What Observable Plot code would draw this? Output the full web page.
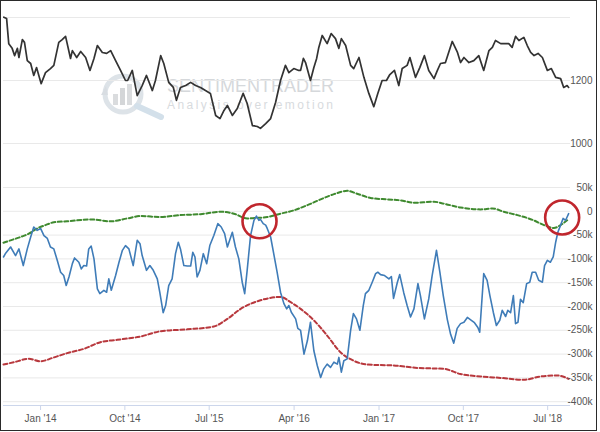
<!DOCTYPE html>
<html><head><meta charset="utf-8">
<script src="https://cdn.jsdelivr.net/npm/d3@7"></script>
<script src="https://cdn.jsdelivr.net/npm/@observablehq/plot@0.6"></script>
<style>
body{margin:0;background:#fff;font-family:"Liberation Sans",Arial,sans-serif}
#wrap{position:relative;width:600px;height:432px;overflow:hidden;background:#fff}
#frame{position:absolute;left:0;top:0;width:597px;height:431px;box-sizing:border-box;border:1.5px solid #2a2a2a;pointer-events:none;z-index:5}
#wm{position:absolute;left:0;top:0;z-index:0}
#charts{position:absolute;left:0;top:0;z-index:1}
#charts svg{display:block}
</style></head><body>
<div id="wrap">
<svg id="wm" width="600" height="160" xmlns="http://www.w3.org/2000/svg">
  <circle cx="123" cy="94" r="18" fill="none" stroke="#dde3e8" stroke-width="5"/>
  <rect x="113" y="94" width="5" height="11" fill="#dadcde"/>
  <rect x="120" y="88" width="5" height="17" fill="#d4d6d8"/>
  <rect x="127" y="84" width="5" height="21" fill="#dadcde"/>
  <line x1="137" y1="106" x2="161" y2="117" stroke="#d3e0ea" stroke-width="6" stroke-linecap="round"/>
  <path d="M106 86 L101 95 L108 95 Z" fill="#d8dde2"/>
  <text x="167" y="92" font-family="Liberation Sans, Arial, sans-serif" font-size="19" fill="#d5d8db" textLength="167" lengthAdjust="spacingAndGlyphs">SENTIMENTRADER</text>
  <text x="167" y="109" font-family="Liberation Sans, Arial, sans-serif" font-size="12" fill="#d8dbde" textLength="166" lengthAdjust="spacing">Analysis over emotion</text>
</svg>
<div id="charts"></div>
<div id="frame"></div>
</div>
<script>
// ---- data ----
const goldDates = ["2013-09-04","2013-09-13","2013-09-20","2013-10-01","2013-10-09","2013-10-18","2013-10-23","2013-11-03","2013-11-10","2013-11-19","2013-11-30","2013-12-10","2013-12-19","2014-01-03","2014-01-17","2014-02-02","2014-02-13","2014-03-01","2014-03-12","2014-03-23","2014-04-08","2014-04-14","2014-04-28","2014-05-11","2014-05-27","2014-06-10","2014-06-23","2014-07-04","2014-07-20","2014-08-03","2014-08-16","2014-09-01","2014-09-17","2014-10-03","2014-10-10","2014-10-25","2014-11-10","2014-11-26","2014-12-10","2014-12-29","2015-01-08","2015-01-25","2015-02-04","2015-02-20","2015-03-07","2015-03-17","2015-03-30","2015-04-16","2015-05-02","2015-05-18","2015-06-03","2015-06-19","2015-07-05","2015-07-22","2015-08-05","2015-08-18","2015-08-29","2015-09-14","2015-09-30","2015-10-19","2015-11-01","2015-11-18","2015-12-04","2015-12-14","2015-12-31","2016-01-16","2016-02-01","2016-02-17","2016-03-04","2016-03-15","2016-03-31","2016-04-16","2016-04-22","2016-05-01","2016-05-08","2016-05-24","2016-06-04","2016-06-13","2016-06-20","2016-07-01","2016-07-17","2016-07-30","2016-08-13","2016-08-24","2016-09-01","2016-09-15","2016-10-01","2016-10-11","2016-10-28","2016-11-13","2016-11-29","2016-12-15","2016-12-28","2017-01-11","2017-01-25","2017-02-05","2017-02-20","2017-03-06","2017-03-17","2017-04-02","2017-04-11","2017-04-29","2017-05-13","2017-05-28","2017-06-11","2017-06-28","2017-07-09","2017-07-19","2017-08-04","2017-08-26","2017-09-12","2017-09-22","2017-10-03","2017-10-19","2017-11-04","2017-11-20","2017-12-06","2017-12-23","2018-01-03","2018-01-13","2018-01-30","2018-02-11","2018-02-25","2018-03-08","2018-03-19","2018-03-30","2018-04-15","2018-04-26","2018-05-07","2018-05-18","2018-05-31","2018-06-14","2018-06-30","2018-07-13","2018-07-27","2018-08-12","2018-08-22","2018-09-02","2018-09-07"];
const goldValues = [1401,1397,1317,1302,1279,1302,1273,1330,1321,1263,1254,1216,1241,1190,1225,1238,1248,1321,1330,1340,1270,1295,1273,1292,1273,1232,1270,1311,1289,1286,1295,1263,1232,1200,1200,1232,1152,1184,1216,1168,1200,1279,1254,1194,1178,1137,1178,1184,1194,1184,1178,1168,1159,1089,1079,1105,1121,1089,1111,1159,1127,1057,1054,1048,1063,1079,1130,1200,1248,1225,1238,1232,1232,1270,1257,1200,1241,1270,1305,1343,1317,1349,1333,1302,1333,1311,1248,1238,1273,1210,1159,1117,1159,1200,1200,1219,1232,1184,1238,1248,1273,1210,1241,1279,1232,1206,1232,1254,1257,1324,1289,1257,1273,1257,1263,1279,1232,1295,1305,1327,1317,1317,1317,1305,1340,1327,1337,1311,1289,1279,1286,1273,1232,1238,1210,1206,1178,1184,1178];

const posDates = ["2013-09-03","2013-09-10","2013-09-26","2013-10-12","2013-10-23","2013-11-06","2013-11-19","2013-11-30","2013-12-10","2013-12-21","2014-01-01","2014-01-12","2014-01-23","2014-02-02","2014-02-13","2014-02-24","2014-03-07","2014-03-17","2014-03-25","2014-04-03","2014-04-14","2014-04-21","2014-05-05","2014-05-13","2014-05-21","2014-05-30","2014-06-06","2014-06-14","2014-06-23","2014-07-04","2014-07-12","2014-07-25","2014-08-03","2014-08-10","2014-08-18","2014-09-01","2014-09-12","2014-09-23","2014-10-03","2014-10-14","2014-10-28","2014-11-10","2014-11-19","2014-11-26","2014-12-10","2014-12-21","2015-01-01","2015-01-14","2015-01-22","2015-02-02","2015-02-10","2015-02-20","2015-03-03","2015-03-14","2015-03-23","2015-03-30","2015-04-10","2015-04-21","2015-05-02","2015-05-09","2015-05-16","2015-05-23","2015-06-01","2015-06-12","2015-06-23","2015-07-03","2015-07-16","2015-07-29","2015-08-09","2015-08-20","2015-08-29","2015-09-14","2015-09-24","2015-10-05","2015-10-16","2015-10-24","2015-11-01","2015-11-12","2015-11-23","2015-12-01","2015-12-09","2015-12-14","2015-12-23","2015-12-31","2016-01-05","2016-01-16","2016-01-26","2016-02-06","2016-02-17","2016-02-28","2016-03-08","2016-03-15","2016-03-23","2016-04-06","2016-04-13","2016-04-22","2016-05-03","2016-05-14","2016-05-24","2016-06-04","2016-06-15","2016-06-26","2016-07-06","2016-07-17","2016-07-28","2016-08-08","2016-08-19","2016-08-24","2016-09-01","2016-09-09","2016-09-20","2016-10-01","2016-10-10","2016-10-20","2016-10-31","2016-11-11","2016-11-18","2016-11-29","2016-12-10","2016-12-21","2016-12-28","2017-01-06","2017-01-19","2017-02-02","2017-02-10","2017-02-17","2017-03-01","2017-03-09","2017-03-22","2017-04-02","2017-04-13","2017-04-24","2017-05-07","2017-05-15","2017-05-28","2017-06-11","2017-06-22","2017-07-06","2017-07-17","2017-07-28","2017-08-10","2017-08-21","2017-08-31","2017-09-11","2017-09-22","2017-10-03","2017-10-14","2017-10-27","2017-11-06","2017-11-17","2017-11-23","2017-12-06","2017-12-17","2017-12-26","2018-01-06","2018-01-16","2018-01-27","2018-02-04","2018-02-15","2018-02-22","2018-03-03","2018-03-12","2018-03-19","2018-03-27","2018-04-04","2018-04-13","2018-04-24","2018-05-04","2018-05-12","2018-05-23","2018-06-02","2018-06-14","2018-06-21","2018-06-30","2018-07-10","2018-07-19","2018-07-27","2018-08-03","2018-08-12","2018-08-20","2018-08-28","2018-09-02","2018-09-07"];
const posValues = [-96,-88,-75,-93,-79,-114,-79,-54,-33,-40,-36,-51,-57,-75,-79,-103,-128,-135,-156,-138,-110,-98,-107,-121,-114,-115,-79,-73,-100,-163,-173,-166,-170,-142,-166,-135,-107,-82,-72,-79,-114,-61,-68,-93,-124,-114,-124,-142,-170,-213,-198,-156,-142,-89,-65,-79,-114,-115,-115,-86,-96,-138,-124,-89,-110,-72,-51,-26,-33,-47,-75,-44,-75,-100,-149,-173,-124,-51,-19,-10,-19,-17,-26,-29,-36,-54,-89,-128,-170,-194,-205,-198,-212,-226,-246,-250,-300,-272,-233,-293,-324,-349,-331,-321,-328,-317,-321,-307,-338,-314,-310,-250,-215,-226,-250,-198,-173,-166,-149,-131,-128,-133,-135,-142,-137,-183,-150,-133,-171,-198,-222,-205,-152,-177,-226,-184,-135,-82,-128,-177,-227,-259,-277,-246,-236,-233,-223,-229,-234,-244,-254,-131,-145,-177,-212,-240,-229,-208,-221,-208,-213,-177,-236,-233,-185,-192,-152,-149,-128,-128,-145,-149,-114,-103,-107,-96,-65,-44,-29,-15,-19,-12,-5];

const upperDates = ["2013-09-03","2013-09-26","2013-10-28","2013-11-24","2013-12-21","2014-01-17","2014-02-13","2014-03-28","2014-06-12","2014-08-16","2014-10-09","2014-11-21","2015-01-25","2015-03-30","2015-06-03","2015-08-07","2015-09-19","2015-11-01","2015-12-01","2016-01-05","2016-02-17","2016-03-31","2016-05-14","2016-06-26","2016-08-08","2016-09-20","2016-10-22","2016-12-05","2017-01-28","2017-03-12","2017-04-24","2017-06-28","2017-07-30","2017-09-22","2017-11-26","2018-01-03","2018-02-09","2018-03-25","2018-05-17","2018-06-19","2018-07-21","2018-08-12","2018-09-02"];
const upperValues = [-66,-61,-54,-47,-36,-29,-23,-21,-17,-21,-15,-10,-12,-8,-6,-1,-5,-15,-14,-12,-5,2,13,25,36,43,37,28,25,23,18,20,16,8,4,6,-1,-8,-19,-29,-35,-29,-19];

const lowerDates = ["2013-09-03","2013-10-07","2013-11-24","2014-01-01","2014-02-13","2014-03-28","2014-05-21","2014-07-14","2014-09-06","2014-11-21","2015-01-25","2015-04-21","2015-07-16","2015-08-29","2015-10-11","2015-12-14","2016-02-17","2016-03-21","2016-04-22","2016-06-04","2016-07-17","2016-08-29","2016-10-11","2016-11-24","2017-02-18","2017-05-05","2017-07-30","2017-09-22","2017-11-26","2018-01-30","2018-04-15","2018-06-08","2018-08-01","2018-09-07"];
const lowerValues = [-322,-317,-310,-315,-307,-298,-289,-275,-270,-263,-252,-248,-242,-226,-205,-187,-180,-191,-205,-229,-261,-296,-314,-322,-324,-329,-331,-342,-347,-350,-354,-347,-345,-352];

const highlightDates = ["2015-12-11","2018-08-17"];
const highlightValues = [-21,-13];

const xTickDates = ["2014-01-01","2014-10-01","2015-07-01","2016-04-01","2017-01-01","2017-10-01","2018-07-01"];
const xTickLabels = ["Jan '14","Oct '14","Jul '15","Apr '16","Jan '17","Oct '17","Jul '18"];
const topTicks = [1000, 1200];
const topGrid = [1000, 1200, 1400];
const bottomTicks = [50, 0, -50, -100, -150, -200, -250, -300, -350, -400];

// ---- build ----
const parse = d3.utcParse("%Y-%m-%d");
const zip = (ds, vs) => ds.map((d, i) => ({date: parse(d), value: vs[i]}));
const gold = zip(goldDates, goldValues);
const pos = zip(posDates, posValues);
const upper = zip(upperDates, upperValues);
const lower = zip(lowerDates, lowerValues);
const highlights = zip(highlightDates, highlightValues);
const xTicks = xTickDates.map(parse);
const labelMap = new Map(xTicks.map((d, i) => [+d, xTickLabels[i]]));

const xDomain = [parse("2013-09-03"), parse("2018-09-13")];
const font = {background: "transparent", fontFamily: "Liberation Sans, Arial, sans-serif", fontSize: "10px", overflow: "visible"};

const topChart = Plot.plot({
  width: 600, height: 160,
  marginLeft: 3, marginRight: 30, marginTop: 17, marginBottom: 17,
  style: font,
  x: {type: "utc", domain: xDomain, axis: null},
  y: {domain: [1000, 1400]},
  marks: [
    Plot.ruleY(topGrid, {stroke: "#e9e9e9", strokeWidth: 1}),
    Plot.lineY(gold, {x: "date", y: "value", stroke: "#333333", strokeWidth: 1.7}),
    Plot.axisY({anchor: "right", ticks: topTicks, tickSize: 0, tickPadding: 3, textAnchor: "end", dx: 19, fill: "#555", label: null, tickFormat: d => String(d)})
  ]
});

const bottomChart = Plot.plot({
  width: 600, height: 272,
  marginLeft: 3, marginRight: 30, marginTop: 27, marginBottom: 27,
  style: font,
  x: {type: "utc", domain: xDomain},
  y: {domain: [-408, 50]},
  marks: [
    Plot.ruleY(bottomTicks, {stroke: "#e9e9e9", strokeWidth: 1}),
    Plot.lineY(lower, {x: "date", y: "value", stroke: "#b8383d", strokeWidth: 2, strokeDasharray: "4,2.5", curve: "monotone-x"}),
    Plot.lineY(upper, {x: "date", y: "value", stroke: "#3f8a2f", strokeWidth: 2, strokeDasharray: "4,2.5", curve: "monotone-x"}),
    Plot.lineY(pos, {x: "date", y: "value", stroke: "#3f7cb8", strokeWidth: 1.6}),
    Plot.dot(highlights, {x: "date", y: "value", r: 17, stroke: "#c0262d", strokeWidth: 2.6, fill: "none"}),
    Plot.ruleY([-408], {stroke: "#ccd6eb", strokeWidth: 1}),
    Plot.axisX({ticks: xTicks, tickFormat: d => labelMap.get(+d), tickSize: 5, tickPadding: 4, stroke: "#ccd6eb", fill: "#555", label: null}),
    Plot.axisY({anchor: "right", ticks: bottomTicks, tickSize: 0, tickPadding: 3, textAnchor: "end", dx: 19, fill: "#555", label: null, tickFormat: d => d === 0 ? "0" : `${d}k`})
  ]
});

const host = document.getElementById("charts");
host.appendChild(topChart);
host.appendChild(bottomChart);
</script>
</body></html>
